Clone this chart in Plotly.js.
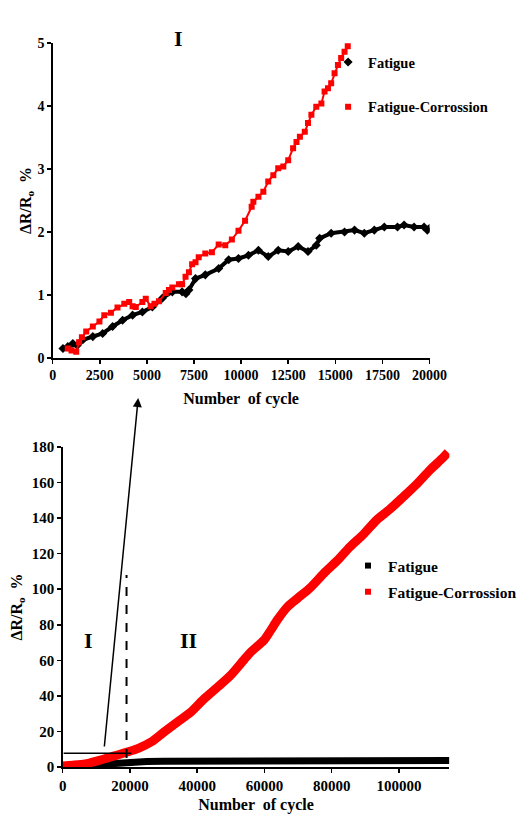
<!DOCTYPE html>
<html>
<head>
<meta charset="utf-8">
<script src="https://cdn.plot.ly/plotly-3.0.1.min.js"></script>
<style>html,body{margin:0;padding:0;background:#fff;}#chart{width:522px;height:814px;}</style>
</head>
<body>
<div id="chart"></div>
<script>
// ---- Data ----
// Top panel (stage I zoom)
const topFatigueX = [545, 800, 1070, 1300, 1600, 2130, 2650, 3180, 3710, 4240, 4760, 5290, 5820, 6350, 6870, 7070, 7230, 7580, 8100, 8810, 9340, 9860, 10390, 10920, 11440, 11970, 12500, 13030, 13550, 13990, 14170, 14780, 15490, 16020, 16540, 17070, 17600, 18300, 18650, 19180, 19710, 19880, 20000];
const topFatigueY = [0.15, 0.18, 0.23, 0.20, 0.29, 0.34, 0.39, 0.50, 0.60, 0.68, 0.73, 0.81, 0.95, 1.05, 1.05, 1.02, 1.08, 1.26, 1.32, 1.42, 1.56, 1.58, 1.63, 1.71, 1.61, 1.71, 1.69, 1.77, 1.69, 1.79, 1.90, 1.98, 2.00, 2.03, 1.98, 2.03, 2.08, 2.08, 2.11, 2.08, 2.08, 2.03, 2.06];
const topCorrX = [800, 1000, 1250, 1400, 1550, 1780, 2130, 2480, 2740, 3090, 3440, 3800, 4060, 4240, 4410, 4760, 4940, 5200, 5400, 5640, 6000, 6170, 6350, 6700, 6870, 7050, 7230, 7400, 7580, 7750, 8100, 8450, 8810, 9160, 9510, 9860, 10210, 10560, 10650, 10920, 11180, 11440, 11710, 11970, 12240, 12500, 12760, 12940, 13120, 13380, 13550, 13730, 13990, 14260, 14430, 14610, 14780, 14960, 15140, 15310, 15490, 15660];
const topCorrY = [0.15, 0.12, 0.10, 0.25, 0.33, 0.42, 0.50, 0.58, 0.68, 0.72, 0.80, 0.86, 0.89, 0.82, 0.81, 0.89, 0.94, 0.82, 0.86, 0.90, 1.03, 1.08, 1.12, 1.17, 1.17, 1.29, 1.36, 1.49, 1.52, 1.60, 1.66, 1.68, 1.80, 1.79, 1.88, 2.02, 2.18, 2.40, 2.48, 2.56, 2.64, 2.80, 2.90, 3.01, 3.04, 3.14, 3.33, 3.43, 3.51, 3.59, 3.73, 3.86, 3.99, 4.04, 4.23, 4.28, 4.36, 4.52, 4.65, 4.76, 4.86, 4.95];

// Bottom panel (full test)
const botFatigueX = [0, 5000, 10000, 15000, 20000, 25000, 30000, 40000, 50000, 60000, 70000, 72000, 80000, 90000, 100000, 110000, 115000];
const botFatigueY = [0.1, 0.8, 1.6, 2.0, 2.6, 3.1, 3.2, 3.2, 3.3, 3.3, 3.3, 3.7, 3.6, 3.7, 3.7, 3.7, 3.7];
const botCorrX = [0, 3000, 6700, 10600, 14600, 19000, 22500, 26400, 30300, 34300, 38200, 42200, 46100, 50000, 54000, 56000, 59900, 61900, 63800, 66800, 69800, 73700, 77700, 81600, 85500, 89500, 93400, 97300, 101300, 105200, 109200, 113100, 114600];
const botCorrY = [0.6, 1.0, 1.7, 3.6, 5.8, 8.3, 10.5, 14.2, 19.9, 25.5, 31, 38.6, 45, 51.7, 60.5, 64.8, 71.4, 77, 82.6, 90, 94.8, 101, 109, 116, 124, 131, 139, 145, 152, 159, 167, 174, 177];

const seriesNames = ["Fatigue", "Fatigue-Corrossion"];
const topXTicks = [0, 2500, 5000, 7500, 10000, 12500, 15000, 17500, 20000];
const topYTicks = [0, 1, 2, 3, 4, 5];
const botXTicks = [0, 20000, 40000, 60000, 80000, 100000];
const botYTicks = [0, 20, 40, 60, 80, 100, 120, 140, 160, 180];
const stageLabels = ["I", "II"];
const xTitle = "Number  of cycle";
const yTitle = "ΔR/R<sub>o</sub>  %";

// ---- Plot ----
const W = 522, H = 814;
const px = v => v / W;
const py = v => 1 - v / H;
const SERIF = "Liberation Serif, Times New Roman, serif";
const RED = "#ff0000", BLACK = "#000000";

const traces = [
  {x: topFatigueX, y: topFatigueY, xaxis: "x", yaxis: "y", mode: "lines+markers",
   line: {color: BLACK, width: 4}, marker: {symbol: "diamond", size: 7, color: BLACK},
   showlegend: false, hoverinfo: "skip"},
  {x: topCorrX, y: topCorrY, xaxis: "x", yaxis: "y", mode: "lines+markers",
   line: {color: RED, width: 2}, marker: {symbol: "square", size: 6, color: RED},
   showlegend: false, hoverinfo: "skip"},
  {x: botFatigueX, y: botFatigueY, xaxis: "x2", yaxis: "y2", mode: "lines",
   line: {color: BLACK, width: 7}, showlegend: false, hoverinfo: "skip"},
  {x: botCorrX, y: botCorrY, xaxis: "x2", yaxis: "y2", mode: "lines",
   line: {color: RED, width: 9, shape: "spline", smoothing: 0.7}, showlegend: false, hoverinfo: "skip"},
  // legend entries
  {x: [null], y: [null], xaxis: "x", yaxis: "y", mode: "markers", name: seriesNames[0],
   marker: {symbol: "diamond", size: 7, color: BLACK}, legend: "legend", legendgroup: "a"},
  {x: [null], y: [null], xaxis: "x", yaxis: "y", mode: "markers", name: seriesNames[1],
   marker: {symbol: "square", size: 6, color: RED}, legend: "legend", legendgroup: "b"},
  {x: [null], y: [null], xaxis: "x2", yaxis: "y2", mode: "markers", name: seriesNames[0],
   marker: {symbol: "square", size: 6, color: BLACK}, legend: "legend2", legendgroup: "c"},
  {x: [null], y: [null], xaxis: "x2", yaxis: "y2", mode: "markers", name: seriesNames[1],
   marker: {symbol: "square", size: 6, color: RED}, legend: "legend2", legendgroup: "d"}
];

function axisBase(size) {
  return {
    showline: true, linecolor: BLACK, linewidth: 1.5,
    ticks: "outside", ticklen: 4, tickwidth: 1.5, tickcolor: BLACK,
    showgrid: false, zeroline: false, automargin: false,
    tickfont: {family: SERIF, size: size, color: BLACK, weight: "bold"},
    tickformat: "d"
  };
}

const layout = {
  width: W, height: H,
  margin: {l: 0, r: 0, t: 0, b: 0},
  paper_bgcolor: "#fff", plot_bgcolor: "rgba(0,0,0,0)",
  font: {family: SERIF, color: BLACK},
  xaxis: Object.assign(axisBase(14), {
    domain: [px(53), px(432)], anchor: "y", range: [0, 20000],
    tickvals: topXTicks,
    title: {text: xTitle, font: {family: SERIF, size: 16, weight: "bold"}, standoff: 10}
  }),
  yaxis: Object.assign(axisBase(14), {
    domain: [py(358), py(43)], anchor: "x", range: [0, 5],
    tickvals: topYTicks,
    title: {text: yTitle, font: {family: SERIF, size: 16, weight: "bold"}, standoff: 2}
  }),
  xaxis2: Object.assign(axisBase(15), {
    domain: [px(63), px(452)], anchor: "y2", range: [0, 115000],
    tickvals: botXTicks,
    title: {text: xTitle, font: {family: SERIF, size: 16, weight: "bold"}, standoff: 9}
  }),
  yaxis2: Object.assign(axisBase(15), {
    domain: [py(767), py(447)], anchor: "x2", range: [0, 180],
    tickvals: botYTicks,
    title: {text: yTitle, font: {family: SERIF, size: 16, weight: "bold"}, standoff: 5}
  }),
  legend: {
    x: px(330), y: py(46), xanchor: "left", yanchor: "top",
    bgcolor: "rgba(0,0,0,0)", borderwidth: 0,
    traceorder: "grouped", tracegroupgap: 23, itemwidth: 30,
    font: {family: SERIF, size: 14.5, color: BLACK, weight: "bold"}
  },
  legend2: {
    x: px(350), y: py(549), xanchor: "left", yanchor: "top",
    bgcolor: "rgba(0,0,0,0)", borderwidth: 0,
    traceorder: "grouped", tracegroupgap: 3, itemwidth: 30,
    font: {family: SERIF, size: 15.5, color: BLACK, weight: "bold"}
  },
  shapes: [
    {type: "line", xref: "x2", yref: "y2", x0: 19000, x1: 19000, y0: 5, y1: 108,
     line: {color: BLACK, width: 2, dash: "dash"}},
    {type: "line", xref: "x2", yref: "y2", x0: 300, x1: 20400, y0: 7.7, y1: 7.7,
     line: {color: BLACK, width: 1.5}}
  ],
  annotations: [
    {xref: "paper", yref: "paper", x: px(173), y: py(24), text: stageLabels[0], showarrow: false,
     font: {family: SERIF, size: 22, weight: "bold", color: BLACK}},
    {xref: "x2", yref: "y2", x: 7700, y: 71, text: stageLabels[0], showarrow: false,
     font: {family: SERIF, size: 22, weight: "bold", color: BLACK}},
    {xref: "x2", yref: "y2", x: 37300, y: 71, text: stageLabels[1], showarrow: false,
     font: {family: SERIF, size: 22, weight: "bold", color: BLACK}},
    {xref: "paper", yref: "paper", x: px(139), y: py(398), ax: -34, ay: 350, text: "",
     showarrow: true, arrowhead: 2, arrowsize: 1.2, arrowwidth: 1.5, arrowcolor: BLACK}
  ]
};

Plotly.newPlot("chart", traces, layout, {displayModeBar: false, staticPlot: true});
</script>
</body>
</html>
